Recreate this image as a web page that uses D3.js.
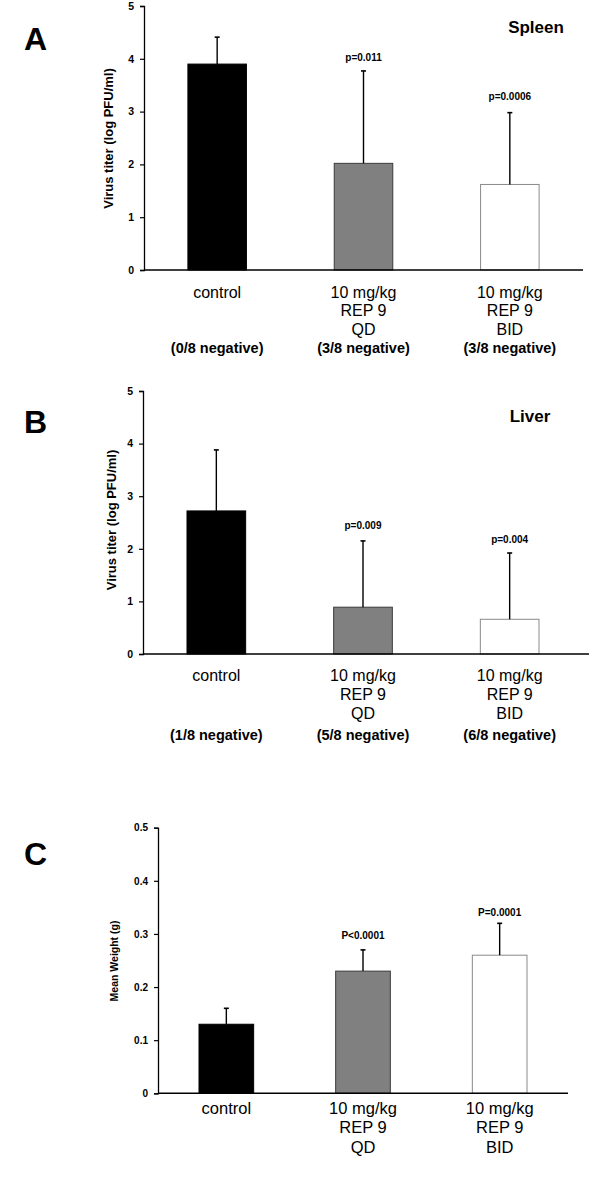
<!DOCTYPE html>
<html>
<head>
<meta charset="utf-8">
<script src="https://cdn.jsdelivr.net/npm/d3@7"></script>
<style>
  html, body { margin: 0; padding: 0; background: #fff; }
  svg { display: block; }
  text { font-family: "Liberation Sans", Arial, Helvetica, sans-serif; fill: #000; }
</style>
</head>
<body>
<svg id="chart" width="600" height="1179"></svg>
<script>
// ---------- data ----------
const categories = ["control", "10 mg/kg REP 9 QD", "10 mg/kg REP 9 BID"];
const categoryLines = [["control"], ["10 mg/kg", "REP 9", "QD"], ["10 mg/kg", "REP 9", "BID"]];
const barColors = ["#000000", "#808080", "#ffffff"];
const barStrokes = ["#000000", "#3a3a3a", "#8a8a8a"];

const spleenMeans = [3.90, 2.02, 1.62];
const spleenSD = [0.51, 1.75, 1.36];
const spleenP = ["", "p=0.011", "p=0.0006"];
const spleenNeg = ["(0/8 negative)", "(3/8 negative)", "(3/8 negative)"];

const liverMeans = [2.72, 0.89, 0.66];
const liverSD = [1.16, 1.26, 1.26];
const liverP = ["", "p=0.009", "p=0.004"];
const liverNeg = ["(1/8 negative)", "(5/8 negative)", "(6/8 negative)"];

const weightMeans = [0.13, 0.23, 0.26];
const weightSD = [0.03, 0.04, 0.06];
const weightP = ["", "P<0.0001", "P=0.0001"];

const titerTicks = [0, 1, 2, 3, 4, 5];
const weightTicks = [0, 0.1, 0.2, 0.3, 0.4, 0.5];

// ---------- layout ----------
const panels = [
  { letter: "A", letterY: 50, means: spleenMeans, sd: spleenSD, p: spleenP, neg: spleenNeg,
    ticks: titerTicks, yMax: 5, ylabel: "Virus titer (log PFU/ml)", tissue: "Spleen",
    x0: 144, x1: 583, axisEnd: 583, yBottom: 270, yTop: 6,
    tissueX: 536, tissueY: 33, ylabelX: 113, ylabelY: 138.5, ylabelSize: 13, tickSize: 10.5,
    labelY0: 297.5, lineH: 18.7, negY: 353.3, catSize: 16, pOff: [0, 10, 13] },
  { letter: "B", letterY: 433, means: liverMeans, sd: liverSD, p: liverP, neg: liverNeg,
    ticks: titerTicks, yMax: 5, ylabel: "Virus titer (log PFU/ml)", tissue: "Liver",
    x0: 143, x1: 583, axisEnd: 589, yBottom: 654, yTop: 391,
    tissueX: 530, tissueY: 421.7, ylabelX: 115.5, ylabelY: 520, ylabelSize: 13, tickSize: 10.5,
    labelY0: 681, lineH: 19, negY: 740, catSize: 16, pOff: [0, 12, 10] },
  { letter: "C", letterY: 865, means: weightMeans, sd: weightSD, p: weightP, neg: null,
    ticks: weightTicks, yMax: 0.5, ylabel: "Mean Weight (g)", tissue: null,
    x0: 158, x1: 568, axisEnd: 568, yBottom: 1093.3, yTop: 827.7,
    ylabelX: 118, ylabelY: 961, ylabelSize: 10.5, tickSize: 10,
    labelY0: 1114, lineH: 19.3, negY: null, catSize: 16.5, pOff: [0, 10.7, 7.6] }
];

const svg = d3.select("#chart");

panels.forEach(P => {
  const g = svg.append("g");
  const x = d3.scaleBand().domain(categories).range([P.x0, P.x1])
    .paddingInner(0.6).paddingOuter(0.3);
  const y = d3.scaleLinear().domain([0, P.yMax]).range([P.yBottom, P.yTop]);

  // panel letter
  g.append("text").attr("x", 24).attr("y", P.letterY)
    .attr("font-size", 32).attr("font-weight", "bold").text(P.letter);

  // bars
  g.selectAll("rect.bar").data(categories).join("rect")
    .attr("class", "bar")
    .attr("x", d => x(d))
    .attr("width", x.bandwidth())
    .attr("y", (d, i) => y(P.means[i]))
    .attr("height", (d, i) => y(0) - y(P.means[i]))
    .attr("fill", (d, i) => barColors[i])
    .attr("stroke", (d, i) => barStrokes[i])
    .attr("stroke-width", 1);

  // error bars (upper only)
  const cx = d => x(d) + x.bandwidth() / 2;
  g.selectAll("line.err").data(categories).join("line")
    .attr("class", "err")
    .attr("x1", cx).attr("x2", cx)
    .attr("y1", (d, i) => y(P.means[i]))
    .attr("y2", (d, i) => y(P.means[i] + P.sd[i]))
    .attr("stroke", "#000").attr("stroke-width", 1.4);
  g.selectAll("line.cap").data(categories).join("line")
    .attr("class", "cap")
    .attr("x1", d => cx(d) - 2.5).attr("x2", d => cx(d) + 2.5)
    .attr("y1", (d, i) => y(P.means[i] + P.sd[i]))
    .attr("y2", (d, i) => y(P.means[i] + P.sd[i]))
    .attr("stroke", "#000").attr("stroke-width", 1.6);

  // p-values
  g.selectAll("text.pval").data(categories).join("text")
    .attr("class", "pval")
    .attr("x", cx)
    .attr("y", (d, i) => y(P.means[i] + P.sd[i]) - P.pOff[i])
    .attr("text-anchor", "middle")
    .attr("font-size", 10).attr("font-weight", "bold")
    .text((d, i) => P.p[i]);

  // y axis
  const yAxis = d3.axisLeft(y).tickValues(P.ticks).tickSize(4).tickPadding(6)
    .tickFormat(d => String(d));
  const ya = g.append("g").attr("transform", `translate(${P.x0},0)`).call(yAxis);
  ya.select(".domain").attr("stroke", "#000").attr("stroke-width", 1.3);
  ya.selectAll(".tick line").attr("stroke", "#000").attr("stroke-width", 1.2);
  ya.selectAll(".tick text").attr("font-size", P.tickSize).attr("font-weight", "bold")
    .attr("font-family", "Liberation Sans, Arial, sans-serif").attr("fill", "#000");

  // x axis baseline
  g.append("line").attr("x1", P.x0).attr("x2", P.axisEnd)
    .attr("y1", y(0)).attr("y2", y(0))
    .attr("stroke", "#000").attr("stroke-width", 1.4);

  // category labels
  categories.forEach((c, i) => {
    categoryLines[i].forEach((ln, k) => {
      g.append("text").attr("x", cx(c)).attr("y", P.labelY0 + k * P.lineH)
        .attr("text-anchor", "middle").attr("font-size", P.catSize).text(ln);
    });
    if (P.neg) {
      g.append("text").attr("x", cx(c)).attr("y", P.negY)
        .attr("text-anchor", "middle").attr("font-size", 14.5)
        .attr("font-weight", "bold").text(P.neg[i]);
    }
  });

  // y label
  g.append("text")
    .attr("transform", `translate(${P.ylabelX},${P.ylabelY}) rotate(-90)`)
    .attr("text-anchor", "middle").attr("font-size", P.ylabelSize)
    .attr("font-weight", "bold").text(P.ylabel);

  // tissue label
  if (P.tissue) {
    g.append("text").attr("x", P.tissueX).attr("y", P.tissueY)
      .attr("text-anchor", "middle").attr("font-size", 17)
      .attr("font-weight", "bold").text(P.tissue);
  }
});
</script>
</body>
</html>
